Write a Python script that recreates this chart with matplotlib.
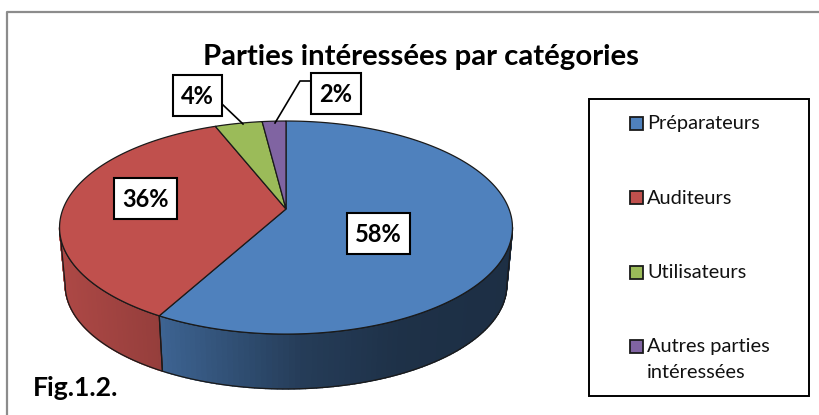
import numpy as np
from matplotlib import pyplot as plt
from matplotlib.colors import to_rgb
from matplotlib.patches import Rectangle

labels = ['Préparateurs', 'Auditeurs', 'Utilisateurs', 'Autres parties\nintéressées']
values = [58, 36, 4, 2]
pct_labels = ['58%', '36%', '4%', '2%']
colors = ['#4F81BD', '#C0504D', '#9BBB59', '#8064A2']

plt.rcParams['font.family'] = ['Lato', 'DejaVu Sans']

fig = plt.figure(figsize=(8.19, 4.15), dpi=100)
ax = fig.add_axes([0, 0, 1, 1])
ax.set_xlim(0, 819)
ax.set_ylim(415, 0)
ax.axis('off')

cx, cy = 286, 209
k, A, B = 0.174, 103.3, 223.0

# circle seen in perspective, angle clockwise from 12 o'clock
def top_rim(t):
    d = 1 + k * np.cos(t)
    return cx + B * np.sin(t) / d, cy - A * np.cos(t) / d

def low_rim(t):
    x, y = top_rim(t)
    return cx + 0.975 * (x - cx), cy + 0.975 * (y - cy) + 58

# how dark the side wall gets going left to right
def shade(x):
    return np.interp(x, [60, 155, 300, 400, 511], [0.9, 0.78, 0.47, 0.38, 0.36])

edges = np.radians(np.cumsum([0] + values) * 3.6)
# the wall is only seen between the two widest points of the rim
side = np.arccos(-k)

for i in range(4):
    t0, t1 = edges[i], edges[i + 1]
    a, b = max(t0, side), min(t1, 2 * np.pi - side)
    if b > a:
        ts = np.linspace(a, b, 90)
        rgb = np.array(to_rgb(colors[i]))
        for u, v in zip(ts[:-1], ts[1:]):
            x0, y0 = top_rim(np.array([u, v]))
            x1, y1 = low_rim(np.array([v, u]))
            c = np.clip(rgb * shade((x0[0] + x0[1]) / 2), 0, 1)
            ax.fill(np.r_[x0, x1], np.r_[y0, y1], fc=c, ec=c, lw=1.0, zorder=1)
        xt, yt = top_rim(ts)
        xl, yl = low_rim(ts[::-1])
        ax.fill(np.r_[xt, xl], np.r_[yt, yl], fc='none', ec='#1a1a1a', lw=0.9, zorder=2)
    # top face
    ts = np.linspace(t0, t1, 200)
    xt, yt = top_rim(ts)
    ax.fill(np.r_[cx, xt], np.r_[cy, yt], fc=colors[i], ec='#1a1a1a', lw=0.9, zorder=3)

# data label boxes
boxes = [(347, 213, 63, 41), (114, 178, 63, 41), (173, 75, 49, 41), (311, 73, 50, 41)]
for (x, y, w, h), s in zip(boxes, pct_labels):
    ax.add_patch(Rectangle((x, y), w, h, fc='white', ec='black', lw=1.5, zorder=5))
    ax.text(x + w / 2, y + h / 2 + 1, s, ha='center', va='center', fontsize=17,
            fontweight='bold', zorder=6)

ax.plot([222, 243], [104, 124], color='black', lw=1.2, zorder=4)
ax.plot([275, 300, 311], [123, 81, 81], color='black', lw=1.2, zorder=4)

ax.text(421, 57, 'Parties intéressées par catégories', ha='center', va='center',
        fontsize=21.2, fontweight='bold')
ax.text(33, 388, 'Fig.1.2.', ha='left', va='center', fontsize=19.2, fontweight='bold')

# legend
ax.add_patch(Rectangle((589, 99), 220, 297, fc='white', ec='black', lw=1.4, zorder=2))
leg_y = [123, 198, 272, 346]
for y, c, s in zip(leg_y, colors, labels):
    ax.add_patch(Rectangle((630, y - 6.5), 13, 13, fc=c, ec='#1a1a1a', lw=1.3, zorder=3))
    first, *rest = s.split('\n')
    ax.text(647, y, first, ha='left', va='center', fontsize=14.4, color='#111111', zorder=3)
    if rest:
        ax.text(647, y + 26, rest[0], ha='left', va='center', fontsize=14.4,
                color='#111111', zorder=3)

# only the top and left of the outer frame are in the picture
ax.plot([7, 7, 819], [415, 12, 12], color='#8c8c8c', lw=1.6, zorder=0)

fig.savefig('out.png', dpi=100)
